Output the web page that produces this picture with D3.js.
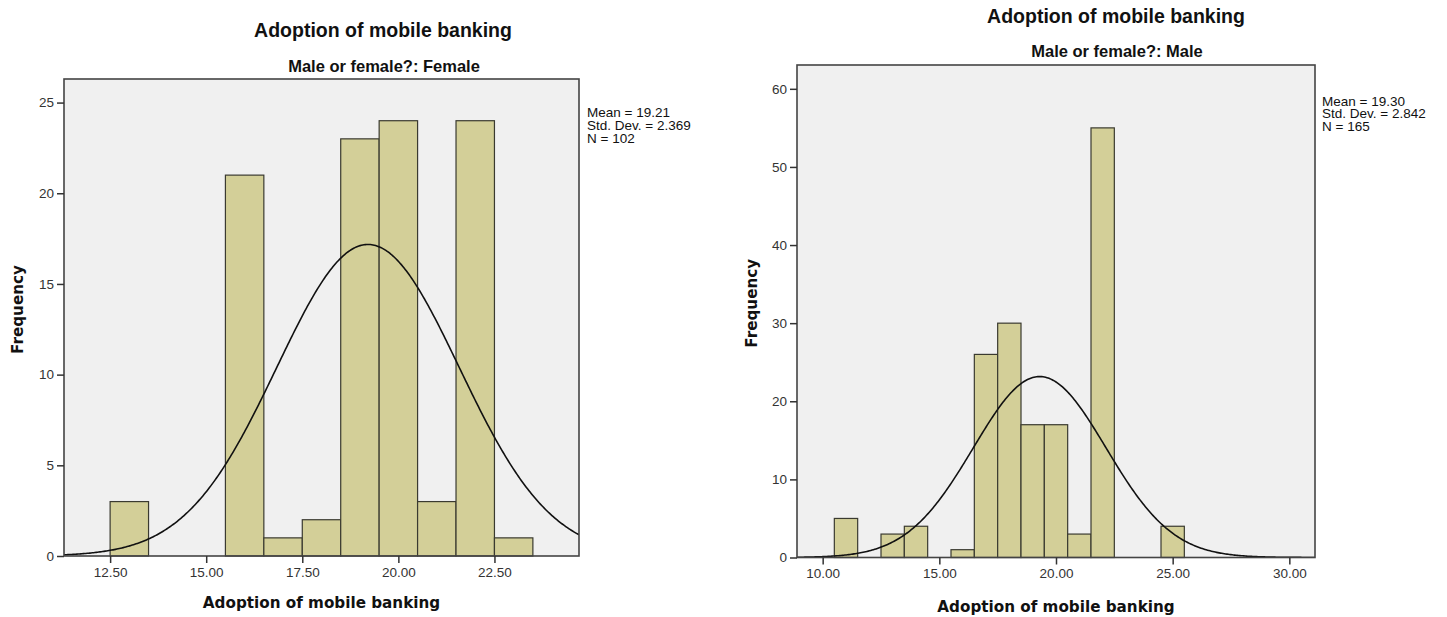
<!DOCTYPE html>
<html>
<head>
<meta charset="utf-8">
<script src="https://cdn.jsdelivr.net/npm/d3@7"></script>
<style>
  html, body { margin: 0; padding: 0; background: #fff; }
  svg { display: block; }
</style>
</head>
<body>
<svg id="chart" width="1447" height="617"></svg>
<script>
// ---- Data ----
const chartTitle = "Adoption of mobile banking";
const xLabel = "Adoption of mobile banking";
const yLabel = "Frequency";

const femaleSubtitle = "Male or female?: Female";
const femaleBinCenters = [13, 16, 17, 18, 19, 20, 21, 22, 23];
const femaleCounts = [3, 21, 1, 2, 23, 24, 3, 24, 1];
const femaleStats = { mean: 19.21, sd: 2.369, n: 102 };
const femaleStatLines = ["Mean = 19.21", "Std. Dev. = 2.369", "N = 102"];
const femaleXTicks = [12.5, 15, 17.5, 20, 22.5];
const femaleYTicks = [0, 5, 10, 15, 20, 25];
const femaleXDomain = [11.3, 24.7];
const femaleYDomain = [0, 26.3];

const maleSubtitle = "Male or female?: Male";
const maleBinCenters = [11, 13, 14, 16, 17, 18, 19, 20, 21, 22, 25];
const maleCounts = [5, 3, 4, 1, 26, 30, 17, 17, 3, 55, 4];
const maleStats = { mean: 19.30, sd: 2.842, n: 165 };
const maleStatLines = ["Mean = 19.30", "Std. Dev. = 2.842", "N = 165"];
const maleXTicks = [10, 15, 20, 25, 30];
const maleYTicks = [0, 10, 20, 30, 40, 50, 60];
const maleXDomain = [8.9, 31.1];
const maleYDomain = [0, 63.05];

const binWidth = 1;

// ---- Drawing ----
const svg = d3.select("#chart");
svg.append("rect").attr("width", 1447).attr("height", 617).attr("fill", "#fff");

const TICK_FONT = "'Liberation Sans', Arial, sans-serif";
const LABEL_FONT = "'DejaVu Sans', Verdana, sans-serif";

function drawPanel(cfg) {
  const g = svg.append("g");
  const x = d3.scaleLinear().domain(cfg.xDomain).range([cfg.left, cfg.right]);
  const y = d3.scaleLinear().domain(cfg.yDomain).range([cfg.bottom, cfg.top]);

  // plot background
  g.append("rect")
    .attr("x", cfg.left).attr("y", cfg.top)
    .attr("width", cfg.right - cfg.left).attr("height", cfg.bottom - cfg.top)
    .attr("fill", "#f0f0f0");

  const clipId = "clip-" + cfg.id;
  g.append("clipPath").attr("id", clipId)
    .append("rect")
    .attr("x", cfg.left).attr("y", cfg.top)
    .attr("width", cfg.right - cfg.left).attr("height", cfg.bottom - cfg.top);

  // bars
  const data = cfg.centers.map((c, i) => ({ c, v: cfg.counts[i] }));
  g.append("g").selectAll("rect").data(data).join("rect")
    .attr("x", d => x(d.c - binWidth / 2))
    .attr("width", d => x(d.c + binWidth / 2) - x(d.c - binWidth / 2))
    .attr("y", d => y(d.v))
    .attr("height", d => y(0) - y(d.v))
    .attr("fill", "#d3cf98")
    .attr("stroke", "#3a3a30")
    .attr("stroke-width", 1.2);

  // fitted normal curve from stated mean / sd / N
  const s = cfg.stats;
  const k = s.n * binWidth / (s.sd * Math.sqrt(2 * Math.PI));
  const xs = d3.range(cfg.xDomain[0], cfg.xDomain[1] + 0.001, (cfg.xDomain[1] - cfg.xDomain[0]) / 400);
  const line = d3.line()
    .x(v => x(v))
    .y(v => y(k * Math.exp(-0.5 * Math.pow((v - s.mean) / s.sd, 2))))
    .curve(d3.curveLinear);
  g.append("path")
    .datum(xs)
    .attr("d", line)
    .attr("fill", "none")
    .attr("stroke", "#111")
    .attr("stroke-width", 1.6)
    .attr("clip-path", `url(#${clipId})`);

  // frame
  g.append("rect")
    .attr("x", cfg.left).attr("y", cfg.top)
    .attr("width", cfg.right - cfg.left).attr("height", cfg.bottom - cfg.top)
    .attr("fill", "none").attr("stroke", "#444").attr("stroke-width", 1.6);

  // axes
  const xAxis = d3.axisBottom(x).tickValues(cfg.xTicks).tickFormat(d3.format(".2f"))
    .tickSize(7).tickSizeOuter(0).tickPadding(4);
  const gx = g.append("g").attr("transform", `translate(0,${cfg.bottom})`).call(xAxis);
  gx.select(".domain").remove();
  gx.selectAll("line").attr("stroke", "#333").attr("stroke-width", 1.5);
  gx.selectAll("text").attr("font-family", TICK_FONT).attr("font-size", 13.5).attr("fill", "#333");

  const yAxis = d3.axisLeft(y).tickValues(cfg.yTicks).tickFormat(d3.format("d"))
    .tickSize(7).tickSizeOuter(0).tickPadding(3);
  const gy = g.append("g").attr("transform", `translate(${cfg.left},0)`).call(yAxis);
  gy.select(".domain").remove();
  gy.selectAll("line").attr("stroke", "#333").attr("stroke-width", 1.5);
  gy.selectAll("text").attr("font-family", TICK_FONT).attr("font-size", 13.5).attr("fill", "#333");

  // titles
  g.append("text").attr("x", cfg.titleX).attr("y", cfg.titleY)
    .attr("text-anchor", "middle").attr("font-family", TICK_FONT)
    .attr("font-weight", "bold").attr("font-size", 19.5).attr("fill", "#111")
    .text(chartTitle);
  g.append("text").attr("x", cfg.titleX + 1).attr("y", cfg.subY)
    .attr("text-anchor", "middle").attr("font-family", TICK_FONT)
    .attr("font-weight", "bold").attr("font-size", 16.5).attr("fill", "#111")
    .text(cfg.subtitle);

  // axis labels
  g.append("text").attr("x", (cfg.left + cfg.right) / 2).attr("y", cfg.xLabelY)
    .attr("text-anchor", "middle").attr("font-family", LABEL_FONT)
    .attr("font-weight", "bold").attr("font-size", 15.2).attr("fill", "#111")
    .text(xLabel);
  g.append("text")
    .attr("transform", `translate(${cfg.yLabelX},${(cfg.top + cfg.bottom) / 2 - 8}) rotate(-90)`)
    .attr("text-anchor", "middle").attr("font-family", LABEL_FONT)
    .attr("font-weight", "bold").attr("font-size", 15.2).attr("fill", "#111")
    .text(yLabel);

  // stats
  const st = g.append("text").attr("font-family", TICK_FONT).attr("font-size", 13.5).attr("fill", "#111");
  cfg.statLines.forEach((t, i) => {
    st.append("tspan").attr("x", cfg.statX).attr("y", cfg.statY + i * 12.8).text(t);
  });
}

drawPanel({
  id: "female", left: 64, right: 579, top: 79, bottom: 556,
  xDomain: femaleXDomain, yDomain: femaleYDomain,
  centers: femaleBinCenters, counts: femaleCounts, stats: femaleStats,
  xTicks: femaleXTicks, yTicks: femaleYTicks,
  subtitle: femaleSubtitle, statLines: femaleStatLines,
  titleX: 383, titleY: 37, subY: 71.5, xLabelY: 608, yLabelX: 23,
  statX: 587, statY: 117
});

drawPanel({
  id: "male", left: 797, right: 1315, top: 65, bottom: 557.5,
  xDomain: maleXDomain, yDomain: maleYDomain,
  centers: maleBinCenters, counts: maleCounts, stats: maleStats,
  xTicks: maleXTicks, yTicks: maleYTicks,
  subtitle: maleSubtitle, statLines: maleStatLines,
  titleX: 1116, titleY: 23, subY: 57, xLabelY: 612, yLabelX: 757,
  statX: 1322, statY: 105.5
});
</script>
</body>
</html>
